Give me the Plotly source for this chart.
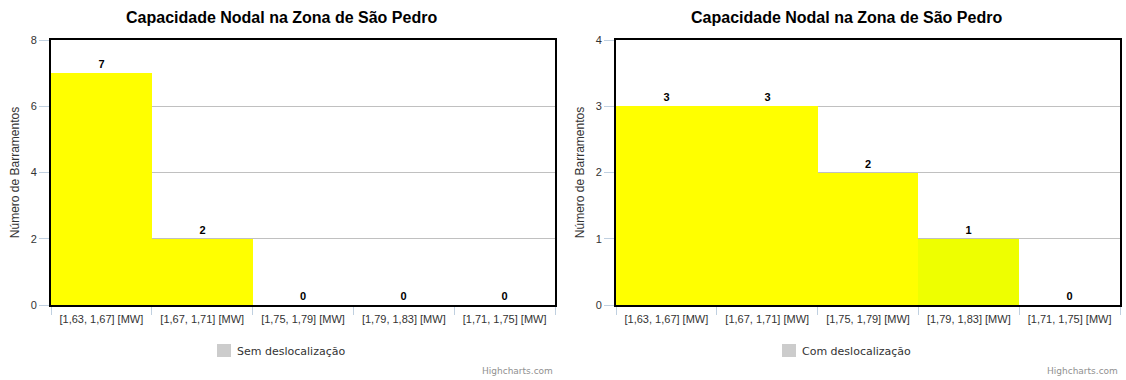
import plotly.graph_objects as go

categories = ["[1,63, 1,67] [MW]", "[1,67, 1,71] [MW]", "[1,75, 1,79] [MW]",
              "[1,79, 1,83] [MW]", "[1,71, 1,75] [MW]"]
sem_values = [7, 2, 0, 0, 0]
com_values = [3, 3, 2, 1, 0]
sem_colors = ["#FFFF00", "#FFFF00", "#FFFF00", "#FFFF00", "#FFFF00"]
com_colors = ["#FFFF00", "#FFFF00", "#FFFF00", "#EEFF00", "#FFFF00"]
title_text = "Capacidade Nodal na Zona de São Pedro"
y_title = "Número de Barramentos"
legend_names = ["Sem deslocalização", "Com deslocalização"]

W, H = 1126, 380
FONT = "Liberation Sans, Arial, sans-serif"
LFONT = "DejaVu Sans, sans-serif"

fig = go.Figure()

for i, (vals, cols) in enumerate([(sem_values, sem_colors), (com_values, com_colors)]):
    sfx = "" if i == 0 else "2"
    fig.add_trace(go.Bar(
        x=categories, y=vals, marker=dict(color=cols, line=dict(width=0)),
        xaxis="x" + sfx, yaxis="y" + sfx, name=legend_names[i],
        texttemplate="%{y}", textposition="outside", cliponaxis=False,
        textfont=dict(family=FONT, size=11, color="#000", weight="bold"),
        showlegend=False, hoverinfo="skip"))

ydom = [1 - 305 / H, 1 - 40 / H]
xdoms = [[51 / W, 555 / W], [616 / W, 1120 / W]]

axcommon_x = dict(type="category", showline=True, mirror=True, linecolor="#000", linewidth=2,
                  ticks="outside", tickson="boundaries", ticklen=8, tickcolor="#C0D0E0",
                  ticklabelstandoff=3,
                  tickfont=dict(family=FONT, size=11, color="#333"), showgrid=False,
                  automargin=False, fixedrange=True)
axcommon_y = dict(showline=True, mirror=True, linecolor="#000", linewidth=2,
                  ticks="outside", ticklen=10, tickcolor="#C0D0E0",
                  tickfont=dict(family=FONT, size=11, color="#333"), automargin=False,
                  showgrid=True, gridcolor="#C0C0C0", gridwidth=1, zeroline=False,
                  title=dict(text=y_title, font=dict(family=FONT, size=12, color="#333"), standoff=8))

annotations = []
shapes = []
centers = [281, 846]
rights = [555, 1120]
for i in range(2):
    c = centers[i]
    annotations.append(dict(text="<b>" + title_text + "</b>", x=c / W, y=1 - 17 / H,
                            xref="paper", yref="paper", showarrow=False,
                            font=dict(family=FONT, size=16, color="#000"),
                            xanchor="center", yanchor="middle"))
    annotations.append(dict(text="Highcharts.com", x=rights[i] / W, y=1 - 371 / H,
                            xref="paper", yref="paper", showarrow=False,
                            font=dict(family=LFONT, size=9, color="#909090"),
                            xanchor="right", yanchor="middle"))
    sx0 = c - 64
    shapes.append(dict(type="rect", xref="paper", yref="paper",
                       x0=sx0 / W, x1=(sx0 + 14) / W, y0=1 - 357 / H, y1=1 - 344 / H,
                       fillcolor="#CCCCCC", line=dict(width=0)))
    annotations.append(dict(text=legend_names[i], x=(sx0 + 18) / W, y=1 - 351 / H,
                            xref="paper", yref="paper", showarrow=False,
                            font=dict(family=LFONT, size=11, color="#333"),
                            xanchor="left", yanchor="middle"))

fig.update_layout(
    width=W, height=H, margin=dict(l=0, r=0, t=0, b=0, autoexpand=False),
    paper_bgcolor="white", plot_bgcolor="white", bargap=0, showlegend=False,
    xaxis=dict(domain=xdoms[0], anchor="y", **axcommon_x),
    xaxis2=dict(domain=xdoms[1], anchor="y2", **axcommon_x),
    yaxis=dict(domain=ydom, anchor="x", range=[0, 8], dtick=2, **axcommon_y),
    yaxis2=dict(domain=ydom, anchor="x2", range=[0, 4], dtick=1, **axcommon_y),
    annotations=annotations, shapes=shapes,
)

fig.write_html("out.html", config={"displayModeBar": False},
               post_script="document.body.style.margin='0';document.body.style.overflow='hidden';")
